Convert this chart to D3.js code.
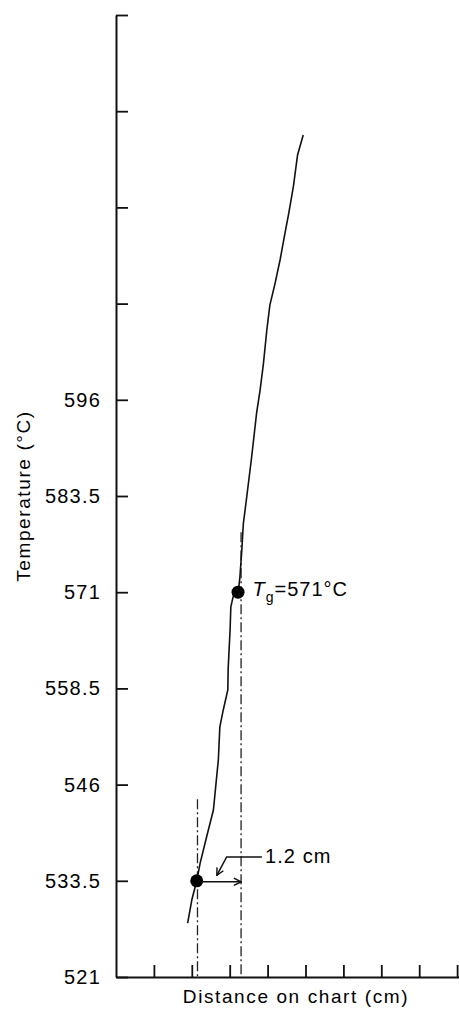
<!DOCTYPE html>
<html>
<head>
<meta charset="utf-8">
<script src="https://cdn.jsdelivr.net/npm/d3@7"></script>
<style>
  body { margin: 0; background: #fff; }
  svg { display: block; }
  text { font-family: "Liberation Sans", Arial, sans-serif; fill: #000; }
</style>
</head>
<body>
<div id="chart"></div>
<script>
// temperature axis ticks (every 12.5 °C), only the lower ones are labelled
const yTicks = [521, 533.5, 546, 558.5, 571, 583.5, 596, 608.5, 621, 633.5, 646];
const yTickLabels = ["521", "533.5", "546", "558.5", "571", "583.5", "596", "", "", "", ""];
// distance ticks (cm), unlabelled
const xTicks = [1, 2, 3, 4, 5, 6, 7, 8, 9];

// trace: distance (cm), temperature (°C)
const traceX = [4.94, 4.79, 4.68, 4.56, 4.46, 4.33, 4.20, 4.06, 3.98, 3.89, 3.80, 3.71, 3.58, 3.45,
                3.36, 3.32, 3.27, 3.23, 3.09, 3.03, 3.01, 2.96, 2.95, 2.83, 2.74, 2.70, 2.57, 2.39,
                2.22, 2.13, 2.00, 1.89];
const traceT = [630.4, 627.8, 623.7, 620.3, 617.7, 614.2, 611.2, 608.3, 605.1, 600.7, 597.2, 594.3, 588.6, 583.4,
                579.9, 576.5, 573.0, 571.2, 570.4, 569.1, 566.1, 561.1, 558.3, 555.7, 553.5, 549.2, 542.7, 539.2,
                535.8, 533.5, 531.0, 528.0];

// marked points: onset and Tg
const markX = [2.13, 3.22];
const markT = [533.5, 571];

// construction lines (dash-dot), x position and top temperature
const guideX = [2.15, 3.30];
const guideTop = [544.1, 578.8];

const width = 459, height = 1014;
const svg = d3.select("#chart").append("svg")
    .attr("width", width)
    .attr("height", height);

const x = d3.scaleLinear().domain([0, 9.05]).range([116, 459]);
const y = d3.scaleLinear().domain([521, 646]).range([977, 15]);

svg.append("defs").append("marker")
    .attr("id", "open")
    .attr("viewBox", "0 0 10 10")
    .attr("refX", 9).attr("refY", 5)
    .attr("markerWidth", 9).attr("markerHeight", 9)
    .attr("markerUnits", "userSpaceOnUse")
    .attr("orient", "auto")
  .append("path")
    .attr("d", "M1,1 L9,5 L1,9")
    .attr("fill", "none")
    .attr("stroke", "#111")
    .attr("stroke-width", 1.6);

// axes
const yAxis = d3.axisLeft(y)
    .tickValues(yTicks)
    .tickFormat((d, i) => yTickLabels[i])
    .tickSizeInner(-12)
    .tickSizeOuter(0)
    .tickPadding(15);
const yg = svg.append("g").attr("transform", `translate(${x(0)},0)`).call(yAxis);

const xAxis = d3.axisBottom(x)
    .tickValues(xTicks)
    .tickFormat("")
    .tickSizeInner(-12)
    .tickSizeOuter(0);
const xg = svg.append("g").attr("transform", `translate(0,${y(521)})`).call(xAxis);

[yg, xg].forEach(g => {
    g.select(".domain").attr("stroke", "#111").attr("stroke-width", 2);
    g.selectAll(".tick line").attr("stroke", "#111").attr("stroke-width", 1.8);
});
yg.selectAll(".tick text")
    .attr("font-size", 20)
    .attr("letter-spacing", 1.2)
    .attr("fill", "#000");

// dash-dot construction lines
svg.selectAll("line.guide")
    .data(guideX)
  .enter().append("line")
    .attr("class", "guide")
    .attr("x1", d => x(d)).attr("x2", d => x(d))
    .attr("y1", (d, i) => y(guideTop[i]))
    .attr("y2", y(521))
    .attr("stroke", "#222")
    .attr("stroke-width", 1.3)
    .attr("stroke-dasharray", "10,3,2,3");

// trace
const pts = traceX.map((d, i) => [d, traceT[i]]);
svg.append("path")
    .datum(pts)
    .attr("d", d3.line().x(d => x(d[0])).y(d => y(d[1])))
    .attr("fill", "none")
    .attr("stroke", "#111")
    .attr("stroke-width", 1.6)
    .attr("stroke-linejoin", "round");

// points
svg.selectAll("circle.mark")
    .data(markX)
  .enter().append("circle")
    .attr("class", "mark")
    .attr("cx", d => x(d))
    .attr("cy", (d, i) => y(markT[i]))
    .attr("r", 6.5)
    .attr("fill", "#000");

// 1.2 cm measurement arrow
svg.append("line")
    .attr("x1", x(markX[0]) + 5).attr("x2", x(guideX[1]))
    .attr("y1", y(533.5) + 1).attr("y2", y(533.5) + 1)
    .attr("stroke", "#111")
    .attr("stroke-width", 1.5)
    .attr("marker-end", "url(#open)");

// leader from label to arrow
svg.append("path")
    .attr("d", d3.line()([[x(3.85), y(536.6)], [x(2.92), y(536.6)], [x(2.66), y(534.2)]]))
    .attr("fill", "none")
    .attr("stroke", "#111")
    .attr("stroke-width", 1.5)
    .attr("marker-end", "url(#open)");

svg.append("text")
    .attr("x", x(3.93))
    .attr("y", y(535.8))
    .attr("font-size", 20)
    .attr("letter-spacing", 1.1)
    .text("1.2 cm");

// Tg label
const tg = svg.append("text")
    .attr("x", x(3.60))
    .attr("y", y(571) + 4)
    .attr("font-size", 20)
    .attr("letter-spacing", 1);
tg.append("tspan").attr("font-style", "italic").text("T");
tg.append("tspan").attr("font-size", 14).attr("dy", 6).text("g");
tg.append("tspan").attr("dy", -6).text("=571°C");

// axis titles
svg.append("text")
    .attr("transform", `translate(30,${y(583.5)}) rotate(-90)`)
    .attr("text-anchor", "middle")
    .attr("font-size", 19)
    .attr("letter-spacing", 1.6)
    .text("Temperature (°C)");

svg.append("text")
    .attr("x", 296)
    .attr("y", 1003)
    .attr("text-anchor", "middle")
    .attr("font-size", 19)
    .attr("letter-spacing", 1.6)
    .text("Distance on chart (cm)");
</script>
</body>
</html>
